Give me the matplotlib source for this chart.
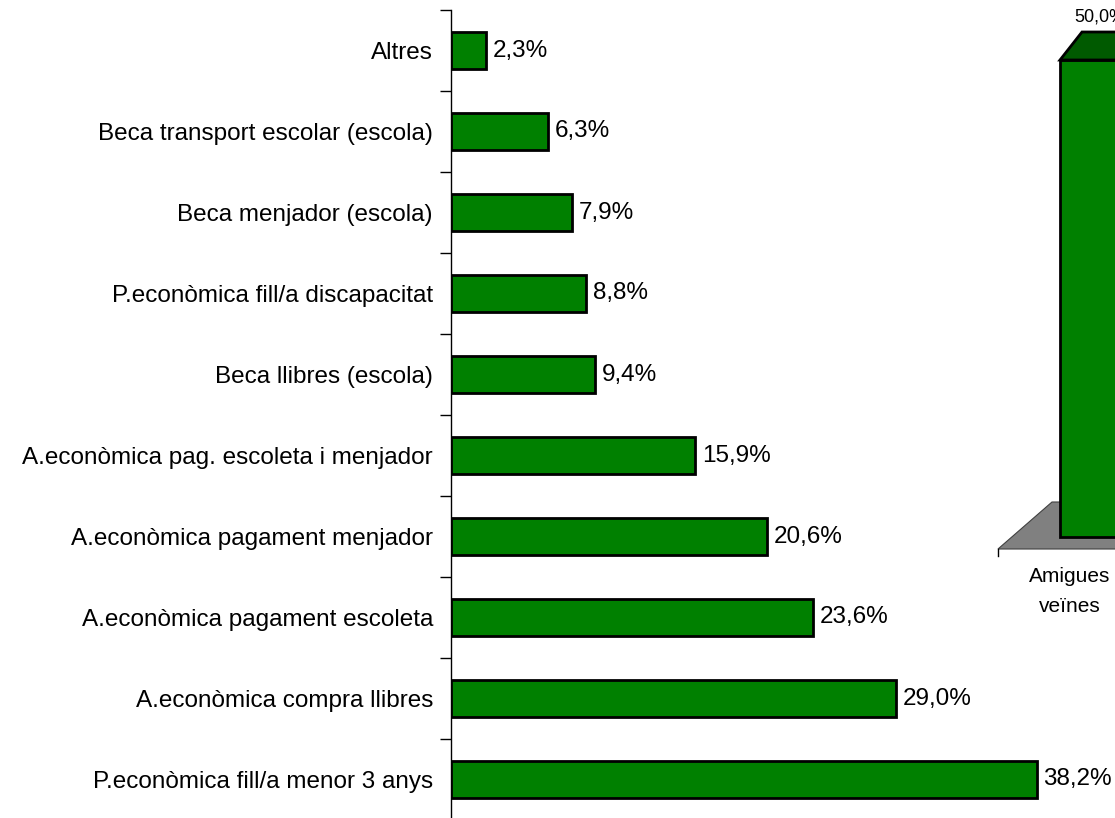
import matplotlib
matplotlib.use("Agg")
import matplotlib.pyplot as plt
from matplotlib.patches import Polygon
import numpy as np

categories = [
    "P.econòmica fill/a menor 3 anys",
    "A.econòmica compra llibres",
    "A.econòmica pagament escoleta",
    "A.econòmica pagament menjador",
    "A.econòmica pag. escoleta i menjador",
    "Beca llibres (escola)",
    "P.econòmica fill/a discapacitat",
    "Beca menjador (escola)",
    "Beca transport escolar (escola)",
    "Altres",
]
values = [38.2, 29.0, 23.6, 20.6, 15.9, 9.4, 8.8, 7.9, 6.3, 2.3]

categories2 = ["Amigues\nveïnes"]
values2 = [50.0]

plt.rcParams['font.family'] = ['Liberation Sans', 'DejaVu Sans']

W, H = 1115, 818
fig = plt.figure(figsize=(W / 100, H / 100), dpi=100)

# main horizontal bar chart
ax_l, ax_r, ax_t, ax_b = 451, 1060, 10, 820
ax = fig.add_axes([ax_l / W, 1 - ax_b / H, (ax_r - ax_l) / W, (ax_b - ax_t) / H])
px_per_unit = 15.33
ax.set_xlim(0, (ax_r - ax_l) / px_per_unit)
ax.set_ylim(-0.5, len(categories) - 0.5)
y = np.arange(len(categories))
ax.barh(y, values, height=0.46, color="#008000", edgecolor="black", linewidth=2.0, zorder=3)
for yi, v in zip(y, values):
    ax.text(v + 0.45, yi, f"{v:.1f}%".replace(".", ","), va="center", ha="left",
            fontsize=17.5, color="black", clip_on=False)
for s in ["top", "right", "bottom"]:
    ax.spines[s].set_visible(False)
ax.spines["left"].set_linewidth(1.0)
ax.set_xticks([])
ax.set_yticks(y)
ax.set_yticklabels(categories, fontsize=17.5)
ax.tick_params(axis="y", which="major", length=0, pad=13)
ax.set_yticks(np.arange(-0.5, len(categories) + 0.5, 1), minor=True)
ax.tick_params(axis="y", which="minor", length=8, width=1.0, direction="out")

# fragment of a second (3D-style) chart at the right edge
a2_l, a2_r, a2_t, a2_b = 998, 1398, 30, 549
ax2 = fig.add_axes([a2_l / W, 1 - a2_b / H, (a2_r - a2_l) / W, (a2_b - a2_t) / H])
ppu = (537 - 60) / 50.0
ax2.set_ylim(-(a2_b - 537) / ppu, (537 - a2_t) / ppu)
ax2.set_xlim(0, 4)
ax2.axis("off")
# floor
dx_f, dy_f = 0.54, (549 - 502) / ppu
y0 = -(a2_b - 537) / ppu
floor = Polygon([(0, y0), (4, y0), (4 + dx_f, y0 + dy_f), (dx_f, y0 + dy_f)],
                closed=True, facecolor="#808080", edgecolor="#404040", linewidth=0.8,
                clip_on=False, zorder=1)
ax2.add_patch(floor)
ax2.plot([0, 0], [y0, y0 - 7 / ppu], color="black", lw=1, clip_on=False)
bx = 0.62
bw = 0.95
dxb, dyb = 0.22, 28 / ppu
for i, v in enumerate(values2):
    ax2.bar(bx + i, v, width=bw, align="edge", color="#008000", edgecolor="black",
            linewidth=2.0, zorder=3)
    top = Polygon([(bx + i, v), (bx + i + bw, v), (bx + i + bw + dxb, v + dyb), (bx + i + dxb, v + dyb)],
                  closed=True, facecolor="#005a00", edgecolor="black", linewidth=2.0,
                  clip_on=False, zorder=4)
    ax2.add_patch(top)
    ax2.text(bx + i + 0.14, v + dyb + 0.7, f"{v:.1f}%".replace(".", ","), ha="left",
             va="bottom", fontsize=13, clip_on=False)
    ax2.text(bx + i + 0.1, y0 - 18 / ppu, categories2[i], ha="center", va="top",
             fontsize=15, linespacing=1.75, clip_on=False)

fig.savefig("out.png", dpi=100)
